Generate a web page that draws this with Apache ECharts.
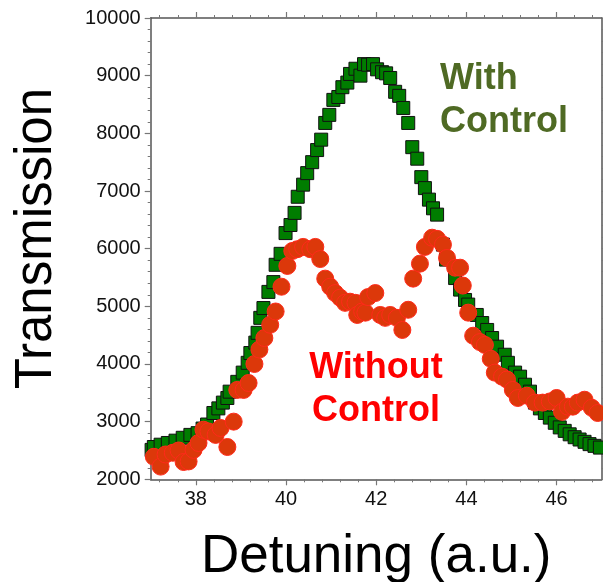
<!DOCTYPE html>
<html>
<head>
<meta charset="utf-8">
<script src="https://cdn.jsdelivr.net/npm/echarts@6/dist/echarts.min.js"></script>
<style>
html,body{margin:0;padding:0;background:#fff;}
#c{width:603px;height:582px;}
</style>
</head>
<body>
<div id="c"></div>
<script>
// With Control (green squares)
var withX = [37.02,37.07,37.22,37.38,37.55,37.71,37.88,38.04,38.15,38.25,38.39,38.5,38.6,38.7,38.75,38.92,39.04,39.15,39.21,39.32,39.37,39.43,39.5,39.61,39.72,39.77,39.88,39.99,40.1,40.19,40.26,40.38,40.47,40.58,40.69,40.78,40.87,40.96,41.05,41.16,41.25,41.36,41.42,41.54,41.65,41.73,41.82,41.93,42.02,42.13,42.22,42.31,42.42,42.51,42.6,42.71,42.8,42.91,43.0,43.08,43.17,43.26,43.35,43.48,43.55,43.75,43.86,43.97,44.04,44.23,44.35,44.46,44.57,44.68,44.85,44.92,45.08,45.19,45.3,45.41,45.52,45.63,45.74,45.85,45.96,46.07,46.18,46.29,46.4,46.51,46.62,46.73,46.84,46.96];
var withY = [2510,2560,2600,2630,2670,2720,2770,2800,2880,2950,3150,3230,3330,3410,3520,3690,3850,4020,4190,4370,4540,4800,4970,5250,5420,5720,5910,6270,6410,6620,6900,7110,7310,7500,7710,7890,8180,8320,8580,8630,8800,8880,9030,9120,9000,9200,9190,9200,9110,9060,9040,8960,8720,8650,8440,8180,7760,7560,7240,7050,6850,6700,6590,6070,5810,5490,5290,5110,5030,4850,4710,4590,4450,4300,4160,4020,3850,3780,3640,3520,3330,3230,3150,3070,2980,2900,2840,2780,2730,2690,2650,2610,2580,2550];
// Without Control (red circles)
var withoutX = [37.07,37.22,37.33,37.49,37.62,37.73,37.84,37.95,38.06,38.17,38.28,38.44,38.55,38.7,38.84,38.92,39.06,39.17,39.3,39.41,39.52,39.65,39.77,39.9,40.03,40.14,40.25,40.38,40.54,40.65,40.76,40.87,40.98,41.09,41.2,41.31,41.42,41.54,41.58,41.69,41.76,41.82,41.98,42.09,42.2,42.31,42.46,42.58,42.71,42.82,42.97,43.08,43.24,43.35,43.48,43.57,43.75,43.86,43.92,44.04,44.15,44.3,44.41,44.54,44.63,44.79,44.9,45.03,45.14,45.34,45.52,45.69,45.85,46.0,46.12,46.25,46.36,46.47,46.62,46.78,46.91];
var withoutY = [2390,2220,2430,2460,2500,2300,2310,2510,2630,2860,2830,2770,2890,2560,3000,3550,3550,3670,4000,4250,4450,4680,4910,5340,5700,5960,5990,6030,5990,6030,5820,5480,5340,5230,5150,5060,5080,5060,4850,4910,4890,5160,5230,4850,4800,4850,4800,4590,4940,5480,5740,6030,6190,6170,6070,5840,5670,5670,5360,4890,4490,4380,4330,4090,3850,3780,3730,3550,3410,3450,3330,3330,3350,3410,3170,3260,3260,3330,3380,3240,3150];
var xTicks = [38, 40, 42, 44, 46];
var xMinorTicks = [37.2,37.6,38.4,38.8,39.2,39.6,40.4,40.8,41.2,41.6,42.4,42.8,43.2,43.6,44.4,44.8,45.2,45.6,46.4,46.8];
var yTicks = [2000,3000,4000,5000,6000,7000,8000,9000,10000];

function pairs(xs, ys){ return xs.map(function(x,i){ return [x, ys[i]]; }); }

var FONT = '"Liberation Sans", Arial, sans-serif';
var chart = echarts.init(document.getElementById('c'), null, {renderer:'canvas'});
var axisLine = {show:true, lineStyle:{color:'#555', width:1.5}};
var noLine = {show:false};
var majorTickX = {show:true, inside:false, length:6, customValues:xTicks, lineStyle:{color:'#777', width:1.2}};
var minorTickX = {show:true, inside:false, length:3, customValues:xMinorTicks, lineStyle:{color:'#777', width:1}};
var tickY = {show:true, inside:false, length:6, lineStyle:{color:'#777', width:1.2}};
var minorY = {show:true, splitNumber:5, length:3, lineStyle:{color:'#777', width:1}};
function xAx(pos, line, tick, label){
  return {
    type:'value', min:37, max:47, position:pos, offset:0,
    axisLine:line, axisTick:tick, splitLine:{show:false}, minorTick:{show:false},
    axisLabel:label || {show:false}
  };
}
var bottomMain = xAx('bottom', axisLine, majorTickX, {
  show:true, customValues:xTicks, fontFamily:FONT, fontSize:20, color:'#111', margin:10
});
bottomMain.name = 'Detuning (a.u.)';
bottomMain.nameLocation = 'middle';
bottomMain.nameGap = 52;
bottomMain.nameTextStyle = {fontFamily:FONT, fontSize:53, color:'#000'};

chart.setOption({
  animation:false,
  backgroundColor:'#fff',
  grid:{left:150.7, right:1.3, top:18, bottom:102.7, containLabel:false, outerBoundsMode:'none'},
  xAxis:[
    bottomMain,
    xAx('bottom', noLine, minorTickX),
    xAx('top', axisLine, majorTickX),
    xAx('top', noLine, minorTickX)
  ],
  yAxis:[{
    type:'value', min:2000, max:10000, interval:1000, position:'left',
    name:'Transmission', nameLocation:'middle', nameGap:88,
    nameTextStyle:{fontFamily:FONT, fontSize:51, color:'#000', padding:[0,0,0,20]},
    axisLine:axisLine, axisTick:tickY, minorTick:minorY,
    splitLine:{show:false},
    axisLabel:{fontFamily:FONT, fontSize:20, color:'#111', margin:10,
      formatter:function(v){ return yTicks.indexOf(v) >= 0 ? String(v) : ''; }}
  },{
    type:'value', min:2000, max:10000, interval:1000, position:'right',
    axisLine:axisLine, axisTick:tickY, minorTick:minorY,
    splitLine:{show:false}, axisLabel:{show:false}
  }],
  series:[{
    name:'With Control', type:'scatter', symbol:'rect', symbolSize:13,
    data:pairs(withX, withY),
    itemStyle:{color:'#007d00', borderColor:'#111', borderWidth:1, opacity:1},
    z:2
  },{
    name:'Without Control', type:'scatter', symbol:'circle', symbolSize:17,
    data:pairs(withoutX, withoutY),
    itemStyle:{color:'#dc380a', borderColor:'#ff2a1a', borderWidth:1, opacity:1},
    z:3
  }],
  graphic:[
    {type:'text', x:440, y:58, style:{text:'With\nControl', fill:'#4f6a24', font:'bold 36px "Liberation Sans", Arial, sans-serif', lineHeight:43, align:'left', verticalAlign:'top'}},
    {type:'text', x:376, y:347, style:{text:'Without\nControl', fill:'#ff0000', font:'bold 36px "Liberation Sans", Arial, sans-serif', lineHeight:43, align:'center', verticalAlign:'top'}}
  ]
});
</script>
</body>
</html>
